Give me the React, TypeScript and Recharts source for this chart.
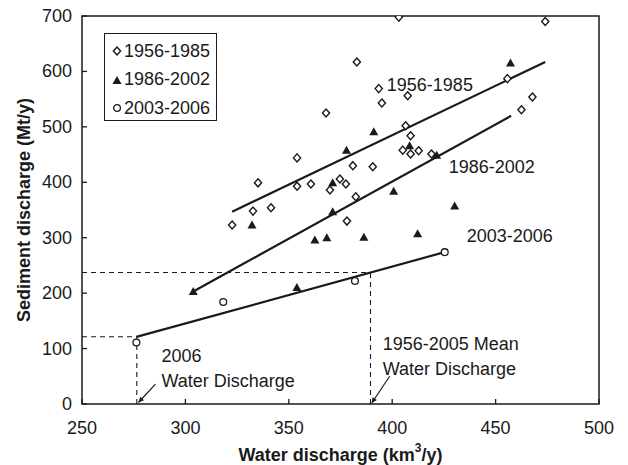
import React from "react";
import {
  ScatterChart,
  Scatter,
  XAxis,
  YAxis,
  ReferenceLine,
  ReferenceArea,
  ReferenceDot,
} from "recharts";

type Pt = { water: number; sediment: number };

const waterTicks = [250, 300, 350, 400, 450, 500];
const sedimentTicks = [0, 100, 200, 300, 400, 500, 600, 700];

// annual water (km3/y) vs sediment (Mt/y)
const years1956to1985: Pt[] = [
  { water: 322.6, sediment: 323 },
  { water: 332.7, sediment: 348 },
  { water: 335.1, sediment: 399 },
  { water: 341.4, sediment: 354 },
  { water: 354.0, sediment: 444 },
  { water: 354.0, sediment: 393 },
  { water: 360.7, sediment: 397 },
  { water: 368.0, sediment: 525 },
  { water: 369.9, sediment: 386 },
  { water: 374.7, sediment: 406 },
  { water: 377.6, sediment: 397 },
  { water: 378.1, sediment: 330 },
  { water: 381.0, sediment: 430 },
  { water: 382.4, sediment: 374 },
  { water: 382.9, sediment: 617 },
  { water: 390.6, sediment: 428 },
  { water: 393.5, sediment: 569 },
  { water: 395.0, sediment: 543 },
  { water: 403.2, sediment: 698 },
  { water: 405.1, sediment: 458 },
  { water: 406.5, sediment: 502 },
  { water: 407.5, sediment: 556 },
  { water: 408.9, sediment: 484 },
  { water: 408.9, sediment: 451 },
  { water: 412.8, sediment: 457 },
  { water: 419.0, sediment: 451 },
  { water: 455.7, sediment: 587 },
  { water: 462.5, sediment: 531 },
  { water: 467.8, sediment: 554 },
  { water: 474.0, sediment: 690 },
];

const years1986to2002: Pt[] = [
  { water: 303.8, sediment: 203 },
  { water: 332.2, sediment: 323 },
  { water: 353.9, sediment: 210 },
  { water: 362.6, sediment: 296 },
  { water: 368.4, sediment: 300 },
  { water: 371.2, sediment: 347 },
  { water: 371.2, sediment: 399 },
  { water: 377.9, sediment: 458 },
  { water: 386.3, sediment: 301 },
  { water: 391.1, sediment: 491 },
  { water: 400.7, sediment: 384 },
  { water: 408.4, sediment: 466 },
  { water: 412.3, sediment: 307 },
  { water: 421.5, sediment: 449 },
  { water: 430.2, sediment: 357 },
  { water: 457.2, sediment: 615 },
];

const years2003to2006: Pt[] = [
  { water: 276.3, sediment: 111 },
  { water: 318.3, sediment: 184 },
  { water: 382.0, sediment: 222 },
  { water: 425.4, sediment: 274 },
];

// fitted trend lines, end points
const trend1956: Pt[] = [
  { water: 322.6, sediment: 347 },
  { water: 474.0, sediment: 617 },
];
const trend1986: Pt[] = [
  { water: 303.8, sediment: 203 },
  { water: 457.5, sediment: 520 },
];
const trend2003: Pt[] = [
  { water: 276.3, sediment: 121 },
  { water: 425.4, sediment: 274 },
];

const meanWater1956to2005 = 389.5;
const water2006 = 276.5;

const INK = "#1a1a1a";
const FONT = "'Liberation Sans', Arial, Helvetica, sans-serif";
const FS = 18;

const onTrend = (line: Pt[], w: number) => {
  const [a, b] = line;
  return a.sediment + ((b.sediment - a.sediment) * (w - a.water)) / (b.water - a.water);
};

const seg = (line: Pt[]) =>
  line.map((p) => ({ x: p.water, y: p.sediment })) as any;

const Diamond = (p: any) => (
  <path
    d={`M${p.cx},${p.cy - 4}L${p.cx + 3.6},${p.cy}L${p.cx},${p.cy + 4}L${p.cx - 3.6},${p.cy}Z`}
    fill="#fff"
    stroke={INK}
    strokeWidth={1.4}
  />
);

const Triangle = (p: any) => (
  <path
    d={`M${p.cx},${p.cy - 4.5}L${p.cx + 4.5},${p.cy + 3.5}L${p.cx - 4.5},${p.cy + 3.5}Z`}
    fill={INK}
  />
);

const Ring = (p: any) => (
  <circle cx={p.cx} cy={p.cy} r={3.4} fill="#fff" stroke={INK} strokeWidth={1.3} />
);

const YTick = ({ x, y, payload }: any) => (
  <g>
    <line x1={x + 10} x2={x + 15} y1={y} y2={y} stroke={INK} strokeWidth={1.3} />
    <text x={x} y={y} textAnchor="end" dominantBaseline="central" fontSize={FS} fill={INK} fontFamily={FONT}>
      {payload.value}
    </text>
  </g>
);

const XTick = ({ x, y, payload }: any) => (
  <g>
    <line x1={x} x2={x} y1={y - 24} y2={y - 29} stroke={INK} strokeWidth={1.3} />
    <text x={x} y={y} textAnchor="middle" dominantBaseline="central" fontSize={FS} fill={INK} fontFamily={FONT}>
      {payload.value}
    </text>
  </g>
);

// small pointer line with an arrow head at its far end
const Pointer = (p: any) => {
  const { x1, y1, x2, y2 } = p;
  const ang = Math.atan2(y2 - y1, x2 - x1);
  const len = 6;
  const spread = 0.45;
  const ax = x2 - len * Math.cos(ang - spread);
  const ay = y2 - len * Math.sin(ang - spread);
  const bx = x2 - len * Math.cos(ang + spread);
  const by = y2 - len * Math.sin(ang + spread);
  return (
    <g>
      <line x1={x1} y1={y1} x2={x2} y2={y2} stroke={INK} strokeWidth={1.2} />
      <path d={`M${x2},${y2}L${ax},${ay}L${bx},${by}Z`} fill={INK} />
    </g>
  );
};

const note = (lines: string[]) => (p: any) => (
  <text x={p.cx} y={p.cy} fontSize={FS} fill={INK} fontFamily={FONT} dominantBaseline="central">
    {lines.map((t, i) => (
      <tspan key={i} x={p.cx} dy={i === 0 ? 0 : 25}>
        {t}
      </tspan>
    ))}
  </text>
);

const legendRows = [
  { name: "1956-1985", mark: "diamond" },
  { name: "1986-2002", mark: "triangle" },
  { name: "2003-2006", mark: "ring" },
];

const LegendMark = ({ mark }: { mark: string }) => (
  <svg width={10} height={10} style={{ display: "block" }}>
    {mark === "diamond" && <Diamond cx={5} cy={5} />}
    {mark === "triangle" && <Triangle cx={5} cy={5.5} />}
    {mark === "ring" && <Ring cx={5} cy={5} />}
  </svg>
);

export default function App() {
  const meanSed = onTrend(trend2003, meanWater1956to2005);
  const sed2006 = onTrend(trend2003, water2006);
  const dash = "5 4";

  return (
    <div style={{ position: "absolute", left: 0, top: 0, width: 628, height: 465, background: "#fff" }}>
      <ScatterChart width={628} height={465} margin={{ top: 16, right: 29, bottom: 0, left: 0 }}>
        <XAxis
          type="number"
          dataKey="water"
          domain={[250, 500]}
          ticks={waterTicks}
          allowDataOverflow
          axisLine={false}
          tickLine={false}
          tickSize={0}
          tickMargin={24}
          height={61}
          tick={<XTick />}
          label={(props: any) => {
            const vb = props.viewBox || { x: 82, y: 404, width: 517 };
            return (
              <text
                x={vb.x + vb.width / 2}
                y={vb.y + 51}
                textAnchor="middle"
                dominantBaseline="central"
                fontSize={FS}
                fontWeight="bold"
                fill={INK}
                fontFamily={FONT}
              >
                <tspan>Water discharge (km</tspan>
                <tspan dy={-7} fontSize={12}>3</tspan>
                <tspan dy={7}>/y)</tspan>
              </text>
            );
          }}
        />
        <YAxis
          type="number"
          dataKey="sediment"
          domain={[0, 700]}
          ticks={sedimentTicks}
          allowDataOverflow
          axisLine={false}
          tickLine={false}
          tickSize={0}
          tickMargin={10}
          width={82}
          tick={<YTick />}
          label={(props: any) => {
            const vb = props.viewBox || { x: 0, y: 16, width: 82, height: 388 };
            const cy = vb.y + vb.height / 2;
            return (
              <text
                x={24}
                y={cy}
                transform={`rotate(-90, 24, ${cy})`}
                textAnchor="middle"
                dominantBaseline="central"
                fontSize={FS}
                fontWeight="bold"
                fill={INK}
                fontFamily={FONT}
              >
                Sediment discharge (Mt/y)
              </text>
            );
          }}
        />

        <ReferenceArea x1={250} x2={500} y1={0} y2={700} fill="none" stroke={INK} strokeWidth={1.5} />

        {/* reference water discharges */}
        <ReferenceLine segment={[{ x: 250, y: meanSed }, { x: meanWater1956to2005, y: meanSed }]} stroke={INK} strokeWidth={1.1} strokeDasharray={dash} />
        <ReferenceLine segment={[{ x: meanWater1956to2005, y: 0 }, { x: meanWater1956to2005, y: meanSed }]} stroke={INK} strokeWidth={1.1} strokeDasharray={dash} />
        <ReferenceLine segment={[{ x: 250, y: sed2006 }, { x: water2006, y: sed2006 }]} stroke={INK} strokeWidth={1.1} strokeDasharray={dash} />
        <ReferenceLine segment={[{ x: water2006, y: 0 }, { x: water2006, y: sed2006 }]} stroke={INK} strokeWidth={1.1} strokeDasharray={dash} />

        {/* trend lines */}
        <ReferenceLine segment={seg(trend1956)} stroke={INK} strokeWidth={2.2} />
        <ReferenceLine segment={seg(trend1986)} stroke={INK} strokeWidth={2.2} />
        <ReferenceLine segment={seg(trend2003)} stroke={INK} strokeWidth={2.2} />

        <ReferenceLine segment={[{ x: 285.5, y: 36 }, { x: 277.3, y: 2.7 }]} shape={<Pointer />} />
        <ReferenceLine segment={[{ x: 398.8, y: 50 }, { x: 390.1, y: 1.8 }]} shape={<Pointer />} />

        <Scatter name="1956-1985" data={years1956to1985} shape={<Diamond />} isAnimationActive={false} />
        <Scatter name="1986-2002" data={years1986to2002} shape={<Triangle />} isAnimationActive={false} />
        <Scatter name="2003-2006" data={years2003to2006} shape={<Ring />} isAnimationActive={false} />

        <ReferenceDot x={397.4} y={576} r={0} shape={note(["1956-1985"])} />
        <ReferenceDot x={427.3} y={428} r={0} shape={note(["1986-2002"])} />
        <ReferenceDot x={436} y={303} r={0} shape={note(["2003-2006"])} />
        <ReferenceDot x={288.4} y={86.6} r={0} shape={note(["2006", "Water Discharge"])} />
        <ReferenceDot x={395.4} y={108} r={0} shape={note(["1956-2005 Mean", "Water Discharge"])} />
      </ScatterChart>

      <div
        style={{
          position: "absolute",
          left: 104,
          top: 33,
          width: 113,
          height: 88,
          boxSizing: "border-box",
          border: `1.5px solid ${INK}`,
          background: "#fff",
          paddingTop: 3,
          fontFamily: FONT,
          fontSize: FS,
          color: INK,
        }}
      >
        {legendRows.map((r) => (
          <div key={r.name} style={{ display: "flex", alignItems: "center", height: 28.5, paddingLeft: 7 }}>
            <LegendMark mark={r.mark} />
            <span style={{ marginLeft: 2 }}>{r.name}</span>
          </div>
        ))}
      </div>
    </div>
  );
}
